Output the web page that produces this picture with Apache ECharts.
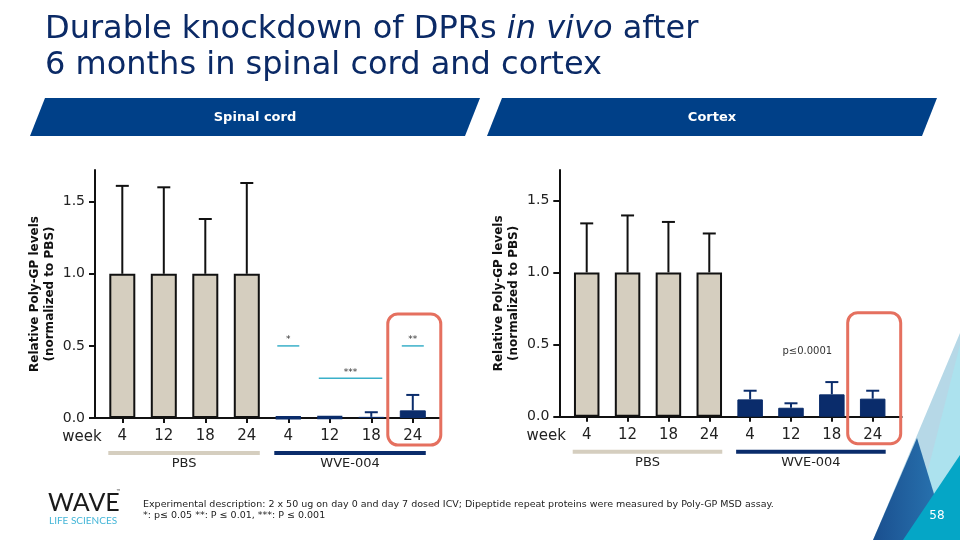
<!DOCTYPE html>
<html><head><meta charset="utf-8">
<script src="https://cdn.jsdelivr.net/npm/echarts@6/dist/echarts.min.js"></script>
<style>html,body{margin:0;padding:0;background:#fff}#c{width:960px;height:540px}</style>
</head><body><div id="c"></div>
<script>
// ---- data ----
const weeks = ['4', '12', '18', '24'];
const groups = ['PBS', 'WVE-004'];
const spinalMean = [1, 1, 1, 1, 0.005, 0.006, 0.008, 0.053];
const spinalErr  = [0.61, 0.60, 0.38, 0.63, 0, 0, 0.032, 0.107];
const cortexMean = [1, 1, 1, 1, 0.12, 0.062, 0.155, 0.125];
const cortexErr  = [0.34, 0.395, 0.35, 0.27, 0.06, 0.031, 0.085, 0.055];
const yTicks = [0, 0.5, 1.0, 1.5];
const spinalSigFrom = [4, 5, 7];
const spinalSigTo   = [4, 6, 7];
const spinalSigY    = [0.5, 0.275, 0.5];
const spinalSigText = ['*', '***', '**'];
const cortexNote = 'p≤0.0001';
const cortexNoteAt = [5.4, 0.45];
const panelTitles = ['Spinal cord', 'Cortex'];

// ---- derived ----
const cats = groups.flatMap(() => weeks);
const idx = cats.map((c, i) => i);
const FONT = 'DejaVu Sans';
const NAVY = '#0a2c6b';
const BEIGE = '#d5cebf';

function barData(mean) {
  return cats.map((c, i) => ({
    value: [i, mean[i]],
    itemStyle: i < 4
      ? { color: BEIGE, borderColor: '#111', borderWidth: 2 }
      : (mean[i] < 0.007
          ? { color: NAVY, borderColor: NAVY, borderWidth: 3.5, borderType: [3, 2] }
          : { color: NAVY, borderColor: NAVY, borderWidth: 1 })
  }));
}
function errData(mean, err) {
  return cats.map((c, i) => [i, mean[i], mean[i] + err[i]]).filter(r => r[2] > r[1]);
}
function errRender(params, api) {
  const x = api.value(0), m = api.value(1), t = api.value(2);
  const p0 = api.coord([x, m]), p1 = api.coord([x, t]);
  const col = x < 4 ? '#111' : NAVY;
  return { type: 'group', children: [
    { type: 'line', shape: { x1: p0[0], y1: p0[1], x2: p1[0], y2: p1[1] }, style: { stroke: col, lineWidth: 2 } },
    { type: 'line', shape: { x1: p1[0] - 6.5, y1: p1[1], x2: p1[0] + 6.5, y2: p1[1] }, style: { stroke: col, lineWidth: 2 } }
  ]};
}
function sigRender(params, api) {
  const a = api.coord([api.value(0), api.value(2)]);
  const b = api.coord([api.value(1), api.value(2)]);
  const txt = spinalSigText[params.dataIndex];
  return { type: 'group', children: [
    { type: 'line', shape: { x1: a[0] - 11, y1: a[1], x2: b[0] + 11, y2: b[1] }, style: { stroke: '#3ab0c9', lineWidth: 1.5 } },
    { type: 'text', x: (a[0] + b[0]) / 2, y: a[1] - 6, style: { text: txt, fill: '#333', fontSize: 9, fontFamily: FONT, align: 'center', verticalAlign: 'middle' } }
  ]};
}
function xAx(gi, min, max) {
  return { gridIndex: gi, type: 'value', min: min, max: max, splitLine: { show: false },
    axisLine: { show: true, onZero: false, lineStyle: { color: '#111', width: 2 } },
    axisTick: { show: true, customValues: idx, length: 5, lineStyle: { color: '#111', width: 2 } },
    axisLabel: { customValues: idx, formatter: v => cats[Math.round(v)], fontSize: 15, color: '#222', margin: 11, fontFamily: FONT } };
}
function yAx(gi, max) {
  return { gridIndex: gi, type: 'value', min: 0, max: max, splitLine: { show: false },
    axisLine: { show: true, onZero: false, lineStyle: { color: '#111', width: 2 } },
    axisTick: { show: true, customValues: yTicks, length: 6, lineStyle: { color: '#111', width: 2 } },
    axisLabel: { customValues: yTicks, formatter: v => v.toFixed(1), fontSize: 14, color: '#222', margin: 10, fontFamily: FONT },
    name: 'Relative Poly-GP levels\n(normalized to PBS)', nameLocation: 'middle', nameRotate: 90, nameGap: 38,
    nameTextStyle: { fontWeight: 'bold', fontSize: 12, color: '#111', lineHeight: 15, fontFamily: FONT } };
}

const option = {
  animation: false,
  textStyle: { fontFamily: FONT },
  grid: [
    { left: 95, top: 170, width: 346, height: 248 },
    { left: 559.3, top: 170, width: 342.4, height: 246.7 }
  ],
  xAxis: [xAx(0, -0.658, 7.68), xAx(1, -0.671, 7.71)],
  yAxis: [yAx(0, 1.72), yAx(1, 1.71)],
  series: [
    { type: 'bar', xAxisIndex: 0, yAxisIndex: 0, barWidth: 26, data: barData(spinalMean) },
    { type: 'bar', xAxisIndex: 1, yAxisIndex: 1, barWidth: 25.5, data: barData(cortexMean) },
    { type: 'custom', xAxisIndex: 0, yAxisIndex: 0, renderItem: errRender, encode: { x: 0, y: 1 }, data: errData(spinalMean, spinalErr), z: 3 },
    { type: 'custom', xAxisIndex: 1, yAxisIndex: 1, renderItem: errRender, encode: { x: 0, y: 1 }, data: errData(cortexMean, cortexErr), z: 3 },
    { type: 'custom', xAxisIndex: 0, yAxisIndex: 0, renderItem: sigRender, encode: { x: 0, y: 2 },
      data: spinalSigFrom.map((f, i) => [f, spinalSigTo[i], spinalSigY[i]]), z: 4 }
  ]
};

const chart = echarts.init(document.getElementById('c'), null, { renderer: 'canvas' });
chart.setOption(option);

function px(gi, pt) { return chart.convertToPixel({ gridIndex: gi }, pt); }
const g = [];
// title
g.push({ type: 'text', x: 45, y: 30, style: { text: 'Durable knockdown of DPRs {i|in vivo} after', fill: '#0b2a66', fontSize: 32, fontFamily: FONT, verticalAlign: 'middle',
  rich: { i: { fontStyle: 'italic', fontSize: 32, fontFamily: FONT, fill: '#0b2a66' } } } });
g.push({ type: 'text', x: 45, y: 65.5, style: { text: '6 months in spinal cord and cortex', fill: '#0b2a66', fontSize: 32, fontFamily: FONT, verticalAlign: 'middle' } });
// banners
const banners = [[[45, 98], [480, 98], [465, 136], [30, 136]], [[502, 98], [937, 98], [922, 136], [487, 136]]];
banners.forEach((pts, k) => {
  g.push({ type: 'polygon', shape: { points: pts }, style: { fill: '#004088' } });
  g.push({ type: 'text', x: (pts[0][0] + pts[2][0]) / 2, y: 118, style: { text: panelTitles[k], fill: '#fff', fontSize: 13, fontWeight: 'bold', fontFamily: FONT, align: 'center', verticalAlign: 'middle' } });
});
// per panel annotations
[0, 1].forEach(gi => {
  const y0 = px(gi, [0, 0])[1];
  const xmin = px(gi, [gi === 0 ? -0.658 : -0.671, 0])[0];
  g.push({ type: 'text', x: xmin - 13, y: y0 + 19, style: { text: 'week', fill: '#222', fontSize: 15, fontFamily: FONT, align: 'center', verticalAlign: 'middle' } });
  groups.forEach((name, k) => {
    const xs = px(gi, [k * 4, 0])[0] - 14, xe = px(gi, [k * 4 + 3, 0])[0] + 13;
    g.push({ type: 'rect', shape: { x: xs, y: y0 + 33, width: xe - xs, height: 4 }, style: { fill: k === 0 ? BEIGE : NAVY } });
    g.push({ type: 'text', x: (xs + xe) / 2, y: y0 + 45.5, style: { text: name, fill: '#222', fontSize: 13, fontFamily: FONT, align: 'center', verticalAlign: 'middle' } });
  });
  const c7 = px(gi, [7, 0])[0];
  g.push({ type: 'rect', shape: { x: c7 - 25, y: y0 - 104, width: 53, height: 131, r: 10 }, style: { fill: 'none', stroke: '#e5705f', lineWidth: 3 }, z: 10 });
});
const pn = px(1, cortexNoteAt);
g.push({ type: 'text', x: pn[0], y: pn[1], style: { text: cortexNote, fill: '#333', fontSize: 10, fontFamily: FONT, align: 'center', verticalAlign: 'middle' } });
// footer
g.push({ type: 'text', x: 143, y: 505, style: { text: 'Experimental description: 2 x 50 ug on day 0 and day 7 dosed ICV; Dipeptide repeat proteins were measured by Poly-GP MSD assay.', fill: '#222', fontSize: 9.5, fontFamily: FONT, verticalAlign: 'middle' } });
g.push({ type: 'text', x: 143, y: 516, style: { text: '*: p≤ 0.05 **: P ≤ 0.01, ***: P ≤ 0.001', fill: '#222', fontSize: 9.5, fontFamily: FONT, verticalAlign: 'middle' } });
// logo
g.push({ type: 'text', x: 48, y: 503, style: { text: 'WAVE', fill: '#1a1a1a', fontSize: 25, fontWeight: 400, fontFamily: 'Lato', verticalAlign: 'middle' } });
g.push({ type: 'text', x: 116, y: 492, style: { text: '™', fill: '#222', fontSize: 5, fontFamily: FONT, verticalAlign: 'middle' } });
g.push({ type: 'text', x: 49, y: 521, style: { text: 'LIFE SCIENCES', fill: '#45b6d8', fontSize: 10, fontFamily: 'Lato', verticalAlign: 'middle' } });
// decorative triangles
g.push({ type: 'polygon', shape: { points: [[960, 333], [873, 540], [960, 540]] }, style: { fill: '#b6d8e7' } });
g.push({ type: 'polygon', shape: { points: [[960, 345], [910, 540], [960, 540]] }, style: { fill: '#ace2ee' } });
g.push({ type: 'polygon', shape: { points: [[917, 438], [873, 540], [948, 540]] }, style: { fill: new echarts.graphic.LinearGradient(0, 0, 1, 0, [{ offset: 0, color: '#1a4f8f' }, { offset: 1, color: '#2a78b4' }]) } });
g.push({ type: 'polygon', shape: { points: [[960, 455], [903, 540], [960, 540]] }, style: { fill: '#05a6c6' } });
g.push({ type: 'text', x: 937, y: 516, style: { text: '58', fill: '#fff', fontSize: 12, fontFamily: FONT, align: 'center', verticalAlign: 'middle' } });
chart.setOption({ graphic: g });
</script></body></html>
